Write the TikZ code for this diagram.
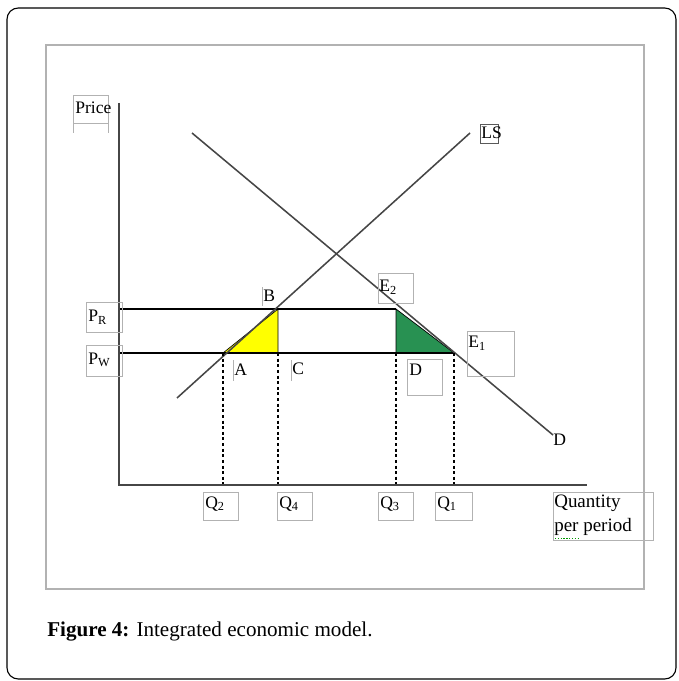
\documentclass[tikz,border=0pt]{standalone}
\usepackage{fontspec}
\setmainfont{Liberation Serif}
\definecolor{tariffyellow}{RGB}{255,255,0}
\definecolor{tariffgreen}{RGB}{40,145,82}
\begin{document}
\begin{tikzpicture}[x=0.025cm,y=-0.025cm,
  lbl/.style={inner sep=0pt,anchor=west,font=\fontsize{12.5}{14}\selectfont},
  box/.style={draw=gray!60,line width=0.4pt},
  curve/.style={draw=gray!55!black,line width=1.1pt},
  guide/.style={line width=1pt,dash pattern=on 2.2pt off 1.8pt},
  level/.style={line width=0.8pt}]
  \useasboundingbox (0,0) rectangle (678,681);
  % frames
  \draw[rounded corners=8pt,line width=0.8pt] (7,8) rectangle (676,679);
  \draw[gray!60,line width=1.4pt] (46,45) rectangle (644,589);
  % axes
  \coordinate (o) at (119,485);
  \coordinate (ytop) at (119,103);
  \coordinate (xend) at (587,485);
  % market points
  \coordinate (A) at (223,353);
  \coordinate (B) at (278,309);
  \coordinate (C) at (278,353);
  \coordinate (E2) at (396,309);
  \coordinate (E1) at (454,353);
  \coordinate (D) at (396,353);
  \coordinate (prstart) at (119,309);
  \coordinate (pwstart) at (119,353);
  \coordinate (lsstart) at (177,398);
  \coordinate (lsend) at (470,133);
  \coordinate (dstart) at (192,133);
  \coordinate (dend) at (553,435);
  \filldraw[fill=tariffyellow,line width=0.5pt] (A) -- (B) -- (C) -- cycle;
  \filldraw[fill=tariffgreen,line width=0.5pt] (E2) -- (E1) -- (D) -- cycle;
  \draw[level] (prstart) -- (E2);
  \draw[level] (pwstart) -- (E1);
  \draw[curve] (lsstart) -- (lsend);
  \draw[curve] (dstart) -- (dend);
  \draw[guide] (A) -- (A |- o);
  \draw[guide] (C) -- (C |- o);
  \draw[guide] (D) -- (D |- o);
  \draw[guide] (E1) -- (E1 |- o);
  \draw[gray!55!black,line width=1.4pt] (ytop) -- (o) -- (xend);
  % label boxes
  \draw[box] (73,95) rectangle (108,123);
  \draw[box] (73,123) -- (73,133) (108,123) -- (108,133);
  \draw[box] (86,302) rectangle (122,332);
  \draw[box] (86,345) rectangle (122,376);
  \draw[box] (262,287) -- (262,306);
  \draw[box] (233,360) -- (233,381);
  \draw[box] (291,360) -- (291,381);
  \draw[box] (378,273) rectangle (413,303);
  \draw[box] (467,331) rectangle (514,376);
  \draw[box] (407,359) rectangle (442,395);
  \draw[draw=gray!70!black,line width=0.6pt] (480,124) rectangle (498,143);
  \draw[box] (203,492) rectangle (238,520);
  \draw[box] (277,492) rectangle (312,520);
  \draw[box] (378,492) rectangle (413,520);
  \draw[box] (435,492) rectangle (472,520);
  \draw[box] (553,492) rectangle (653,540);
  % labels
  \node[lbl] (price) at (75,108) {Price};
  \node[lbl] (pr) at (88,317) {P\textsubscript{R}};
  \node[lbl] (pw) at (88,360) {P\textsubscript{W}};
  \node[lbl] (lb) at (263,296) {B};
  \node[lbl] (la) at (234,370) {A};
  \node[lbl] (lc) at (292,369) {C};
  \node[lbl] (le2) at (379,287) {E\textsubscript{2}};
  \node[lbl] (le1) at (468,343) {E\textsubscript{1}};
  \node[lbl] (ld) at (409,370) {D};
  \node[lbl] (demand) at (553,440) {D};
  \node[lbl] (ls) at (481,133) {LS};
  \node[lbl] (q2) at (205,504) {Q\textsubscript{2}};
  \node[lbl] (q4) at (279,504) {Q\textsubscript{4}};
  \node[lbl] (q3) at (380,504) {Q\textsubscript{3}};
  \node[lbl] (q1) at (437,504) {Q\textsubscript{1}};
  \node[lbl,font=\fontsize{13.5}{15}\selectfont] (qty) at (554,503) {Quantity};
  \node[lbl,font=\fontsize{13.5}{15}\selectfont] (per) at (554,527) {per period};
  \draw[green!60!black,line width=0.6pt,dash pattern=on 1pt off 1pt] (555,538) -- (580,538);
  % caption
  \node[anchor=west,inner sep=0pt,font=\fontsize{15}{18}\selectfont] (caption) at (47,632)
    {\textbf{Figure 4:} Integrated economic model.};
\end{tikzpicture}
\end{document}
